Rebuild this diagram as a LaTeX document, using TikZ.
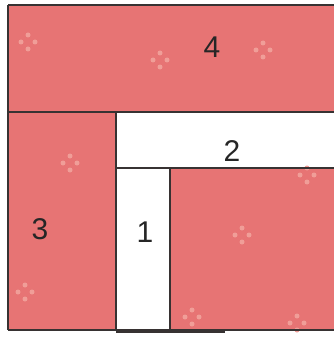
\documentclass[tikz,border=0pt]{standalone}
\usepackage{fontspec}
\setmainfont{Liberation Sans}
\definecolor{quiltpink}{RGB}{231,116,116}
\definecolor{dotpink}{RGB}{240,158,152}
\definecolor{seam}{RGB}{55,50,50}
\tikzset{
  patch/.style={fill=quiltpink},
  seamline/.style={seam, line width=1.2pt},
  piecelabel/.style={font=\fontsize{30}{34}\selectfont, text=black!85}
}
\begin{document}
\begin{tikzpicture}[x=1pt,y=-1pt]
        \useasboundingbox (0,0) rectangle (334,337);
        \fill[white] (0,0) rectangle (334,337);

        \fill[patch] (8,5) rectangle (334,112);
        \fill[patch] (8,112) rectangle (116,330);
        \fill[patch] (170,168) rectangle (334,330);

        % little flowers of the print
        \foreach \cx/\cy in {28/42, 160/60, 263/50, 70/163, 25/292, 242/235, 192/317, 307/175, 297/323}
        {
            \fill[dotpink] (\cx,\cy-7) circle (2.5);
            \fill[dotpink] (\cx,\cy+7) circle (2.5);
            \fill[dotpink] (\cx-7,\cy) circle (2.5);
            \fill[dotpink] (\cx+7,\cy) circle (2.5);
        }

        \draw[seamline] (8,5) -- (334,5);
        \draw[seamline] (8,5) -- (8,330);
        \draw[seamline] (8,112) -- (334,112);
        \draw[seamline] (116,112) -- (116,330);
        \draw[seamline] (116,168) -- (334,168);
        \draw[seamline] (170,168) -- (170,330);
        \draw[seamline] (8,330) -- (334,330);
        \draw[seam, line width=3pt] (116,331) -- (225,331);

        \node[piecelabel] (p4) at (212,47) {4};
        \node[piecelabel] (p2) at (232,151) {2};
        \node[piecelabel] (p3) at (40,229) {3};
        \node[piecelabel] (p1) at (145,232) {1};
    \end{tikzpicture}
\end{document}
